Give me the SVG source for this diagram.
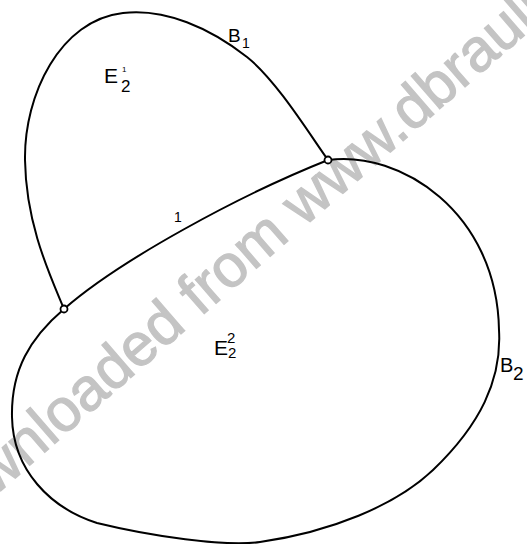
<svg xmlns="http://www.w3.org/2000/svg" width="527" height="544" viewBox="0 0 527 544">
<style>
.curve{fill:none;stroke:#000;stroke-width:2;stroke-linecap:round;stroke-linejoin:round}
.junc{fill:#fff;stroke:#000;stroke-width:1.8}
.lbl{font-family:"Liberation Sans",Arial,sans-serif;fill:#000}
.wm{font-family:"Liberation Sans",Arial,sans-serif;fill:#c4c4c4;stroke:#c4c4c4;stroke-width:1.2;font-size:60px}
</style>
<rect width="527" height="544" fill="#fff"/>
<text class="wm" transform="translate(-64,547) rotate(-41)">Downloaded from www.dbraulibrary.org.in</text>
<g id="connectors">
<path id="B1" class="curve" d="M64,309 C50,275 26,225 25,160 C24,95 60,20 123,13 C165,8 210,28 247,57 C277,81 310,135 328,160"/>
<path id="arc1" class="curve" d="M64,309 C120,260 240,195 328,160"/>
<path id="B2" class="curve" d="M328,160 C400,150 497,212 499,330 C502,380 480,425 433,470 C395,506 330,532 260,542 C225,547 150,536 97,523 C50,508 13,470 12,417 C11,370 30,338 64,309"/>
</g>
<g id="node-A"><circle class="junc" cx="64" cy="309" r="3.5"/></g>
<g id="node-C"><circle class="junc" cx="328" cy="160" r="3.5"/></g>
<g id="label-B1"><text class="lbl" x="228" y="42" font-size="19">B</text><text class="lbl" x="242" y="48" font-size="14">1</text></g>
<g id="label-E21"><text class="lbl" x="104" y="83" font-size="21">E</text><text class="lbl" x="122" y="72" font-size="8">1</text><text class="lbl" x="121" y="92" font-size="17">2</text></g>
<g id="label-1"><text class="lbl" x="174" y="222" font-size="14">1</text></g>
<g id="label-E22"><text class="lbl" x="214" y="355" font-size="21">E</text><text class="lbl" x="227" y="343" font-size="15">2</text><text class="lbl" x="228" y="358" font-size="15">2</text></g>
<g id="label-B2"><text class="lbl" x="500" y="372" font-size="20">B</text><text class="lbl" x="513" y="380" font-size="19">2</text></g>
</svg>
